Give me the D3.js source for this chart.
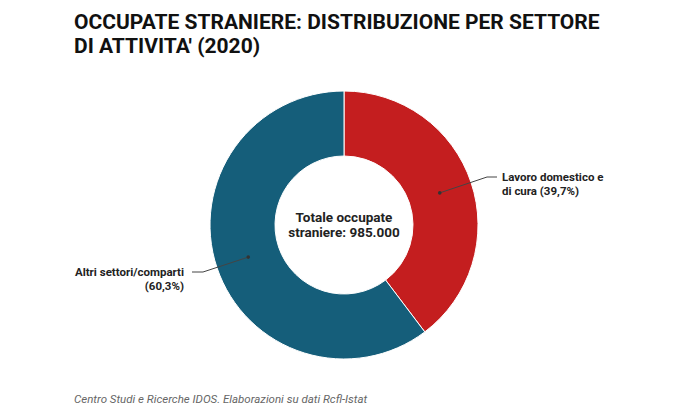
<!DOCTYPE html>
<html><head><meta charset="utf-8">
<script src="https://cdn.jsdelivr.net/npm/d3@7"></script>
<style>
body{margin:0;background:#fff;}
svg{display:block;font-family:Roboto,"Noto Sans",sans-serif;}
</style></head>
<body><svg id="c" width="700" height="410"></svg>
<script>
const categories = ["Lavoro domestico e di cura", "Altri settori/comparti"];
const values = [39.7, 60.3];
const labelLines = [["Lavoro domestico e", "di cura (39,7%)"], ["Altri settori/comparti", "(60,3%)"]];
const colors = ["#c41e1f", "#155e7a"];
const titleLines = ["OCCUPATE STRANIERE: DISTRIBUZIONE PER SETTORE", "DI ATTIVITA' (2020)"];
const centerLines = ["Totale occupate", "straniere: 985.000"];
const source = "Centro Studi e Ricerche IDOS. Elaborazioni su dati Rcfl-Istat";

const svg = d3.select("#c");
const cx = 344, cy = 225, rOuter = 134, rInner = 69;

svg.append("g").selectAll("text").data(titleLines).join("text")
  .attr("x", 74).attr("y", (d,i) => 29 + i*24)
  .attr("font-size", 21).attr("font-weight", 700).attr("fill", "#111")
  .attr("font-family", "Roboto, sans-serif")
  .text(d => d);

const pie = d3.pie().sort(null).value(d => d);
const arcs = pie(values);
const arc = d3.arc().innerRadius(rInner).outerRadius(rOuter);
const mid = d3.arc().innerRadius(101).outerRadius(101);

const g = svg.append("g").attr("transform", `translate(${cx},${cy})`);
g.selectAll("path").data(arcs).join("path")
  .attr("d", arc).attr("fill", (d,i) => colors[i])
  .attr("stroke", "#fff").attr("stroke-width", 1);

// leader lines
arcs.forEach((a, i) => {
  const [px, py] = mid.centroid(a);
  const right = px > 0;
  const ex = right ? 143 : -141, ey = right ? -48 : 47;
  const hx = right ? 153 : -152;
  g.append("polyline")
    .attr("points", `${px},${py} ${ex},${ey} ${hx},${ey}`)
    .attr("fill", "none").attr("stroke", "#444").attr("stroke-width", 1);
  g.append("circle").attr("cx", px).attr("cy", py).attr("r", 1.8).attr("fill", "#333");
  const tx = right ? 158 : -160;
  g.append("g").selectAll("text").data(labelLines[i]).join("text")
    .attr("x", tx).attr("y", (d,j) => ey + 4 + j*14)
    .attr("text-anchor", right ? "start" : "end")
    .attr("font-size", 11.5).attr("font-weight", 700).attr("fill", "#222")
    .text(d => d);
});

g.append("g").selectAll("text").data(centerLines).join("text")
  .attr("x", 0).attr("y", (d,i) => -3 + i*15)
  .attr("text-anchor", "middle").attr("font-size", 13.5).attr("font-weight", 700).attr("fill", "#222")
  .text(d => d);

svg.append("text").attr("x", 74).attr("y", 403)
  .attr("font-size", 11.5).attr("font-style", "italic").attr("fill", "#666")
  .text(source);
</script></body></html>
